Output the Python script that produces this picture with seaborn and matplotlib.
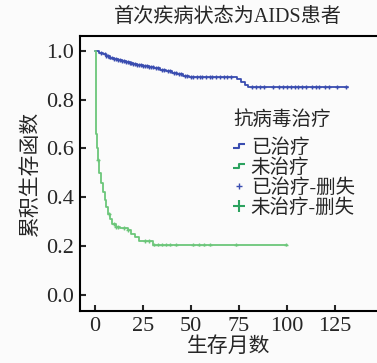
import numpy as np
import pandas as pd
import matplotlib
matplotlib.use('Agg')
import matplotlib.pyplot as plt
from matplotlib.lines import Line2D
from matplotlib.path import Path
import seaborn as sns

# 已治疗 (treated) - KM step points
treated_t = [0, 2, 4, 6, 8, 10, 12, 14, 16, 18, 20, 22, 25, 28, 31, 34, 37, 40, 43, 46, 49, 52, 74, 76, 78, 80, 132]
treated_s = [1.0, 0.992, 0.985, 0.978, 0.972, 0.967, 0.962, 0.957, 0.952, 0.948, 0.944, 0.941, 0.937, 0.933,
             0.928, 0.921, 0.915, 0.909, 0.903, 0.898, 0.894, 0.891, 0.883, 0.872, 0.858, 0.85, 0.85]
treated_cens = [3, 5, 6, 7, 8, 9, 10, 11, 12, 13, 14, 15, 16, 17, 18, 19, 20, 21, 22, 23, 24, 25, 26, 27, 28, 29,
                30, 32, 33, 35, 36, 38, 39, 41, 42, 44, 45, 47, 48, 50, 51, 53, 55, 56, 58, 60, 61, 63, 65, 67, 69, 71,
                82, 84, 86, 88, 93, 96, 98, 100, 102, 104, 106, 108, 110, 113, 115, 117, 120, 122, 126, 131]

# 未治疗 (untreated)
untreated_t = [0, 0.6, 1.0, 1.5, 2.2, 3.0, 4.0, 5.0, 6.0, 7.0, 8.0, 9.0, 11, 13, 17, 19, 21, 23, 30, 100]
untreated_s = [1.0, 0.66, 0.60, 0.552, 0.50, 0.46, 0.42, 0.39, 0.36, 0.33, 0.31, 0.29, 0.28, 0.273, 0.265,
               0.25, 0.238, 0.222, 0.207, 0.207]
untreated_cens = [1.7, 7.2, 10, 11, 12, 15, 17, 26, 28, 31, 33, 35, 37, 39, 42, 51, 54, 57, 60, 73.5, 99.6]

blue = '#3a4db0'
green = '#6cc67a'
green_dark = '#2ca25f'
bg = '#fbfbfb'


def surv_at(times, t_steps, s_steps):
    idx = np.searchsorted(t_steps, times, side='right') - 1
    return np.array(s_steps)[idx]


curves = pd.concat([
    pd.DataFrame({'t': treated_t, 'S': treated_s, 'grp': '已治疗'}),
    pd.DataFrame({'t': untreated_t, 'S': untreated_s, 'grp': '未治疗'}),
])
cens = pd.concat([
    pd.DataFrame({'t': treated_cens, 'S': surv_at(treated_cens, treated_t, treated_s), 'grp': '已治疗'}),
    pd.DataFrame({'t': untreated_cens, 'S': surv_at(untreated_cens, untreated_t, untreated_s), 'grp': '未治疗'}),
])

sns.set_style('ticks')
fonts = ['Liberation Serif', 'Noto Sans CJK SC', 'DejaVu Sans']
plt.rcParams['font.family'] = fonts
plt.rcParams['axes.unicode_minus'] = False

fig = plt.figure(figsize=(3.77, 3.63), dpi=100, facecolor=bg)
ax = fig.add_axes([80 / 377, 1 - 311 / 363, 1 - 80 / 377, (311 - 36) / 363])
ax.set_facecolor(bg)

pal = {'已治疗': blue, '未治疗': green}
sns.lineplot(data=curves, x='t', y='S', hue='grp', palette=pal, drawstyle='steps-post',
             estimator=None, linewidth=1.3, legend=False, ax=ax)
sns.scatterplot(data=cens, x='t', y='S', hue='grp', palette=pal, marker='+', s=8,
                linewidth=1.0, legend=False, ax=ax)

ax.set_xlim(-7.8, 147)
ax.set_ylim(-0.065, 1.06)
ax.set_xticks([0, 25, 50, 75, 100, 125])
ax.set_yticks([0.0, 0.2, 0.4, 0.6, 0.8, 1.0])
ax.set_yticklabels(['0.0', '0.2', '0.4', '0.6', '0.8', '1.0'])
ax.tick_params(direction='in', length=4, width=1.5, labelsize=16, pad=4)
for side in ['left', 'bottom', 'top']:
    ax.spines[side].set_linewidth(1.5)
    ax.spines[side].set_color('black')
ax.spines['right'].set_visible(False)

ax.set_xlabel('生存月数', fontsize=15, labelpad=1)
ax.set_ylabel('累积生存函数', fontsize=15, labelpad=4)
fig.text(0.605, 0.953, '首次疾病状态为AIDS患者', ha='center', va='center', fontsize=14.5)

step_marker = Path([(-1, -0.4), (0, -0.4), (0, 0.4), (1, 0.4)])
handles = [
    Line2D([], [], linestyle='none', marker=step_marker, markersize=8, markerfacecolor='none',
           markeredgecolor=blue, markeredgewidth=1.5),
    Line2D([], [], linestyle='none', marker=step_marker, markersize=8, markerfacecolor='none',
           markeredgecolor=green_dark, markeredgewidth=1.5),
    Line2D([], [], linestyle='none', marker='+', markersize=5, markeredgecolor=blue, markeredgewidth=1.0),
    Line2D([], [], linestyle='none', marker='+', markersize=8, markeredgecolor=green_dark, markeredgewidth=1.5),
]
labels = ['已治疗', '未治疗', '已治疗-删失', '未治疗-删失']
leg = ax.legend(handles, labels, title='抗病毒治疗', loc='upper left', bbox_to_anchor=(0.47, 0.78),
                frameon=False, fontsize=14, title_fontsize=14, handlelength=0.6, handletextpad=0.3,
                labelspacing=0.06, borderpad=0.2)
leg._legend_box.align = 'left'
leg._legend_box.sep = 7

fig.savefig('out.png', dpi=100, facecolor=bg)
